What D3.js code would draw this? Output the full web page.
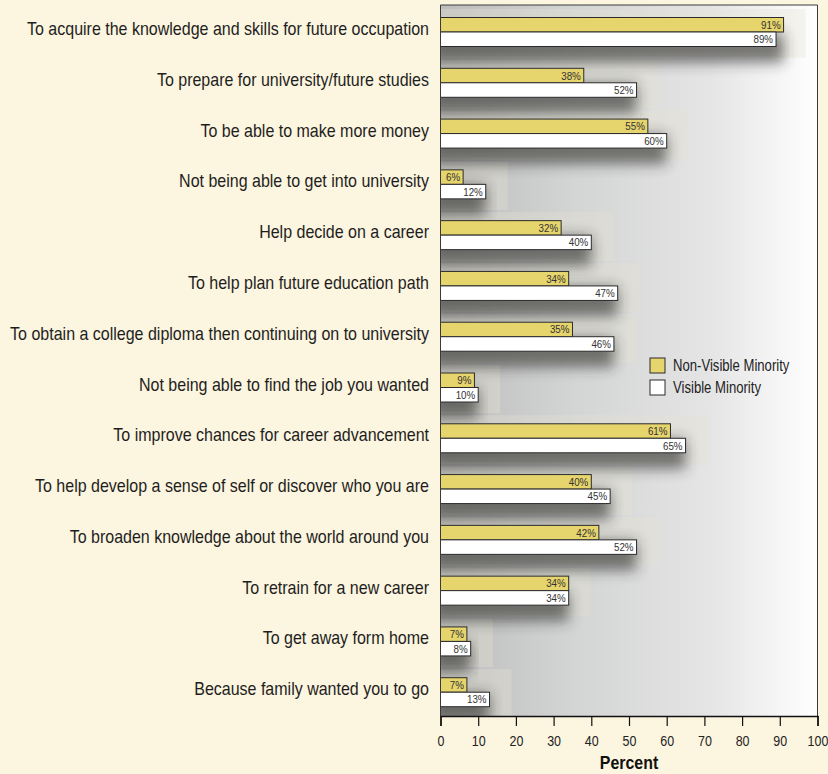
<!DOCTYPE html>
<html>
<head>
<meta charset="utf-8">
<script src="https://cdn.jsdelivr.net/npm/d3@7"></script>
<style>
  html, body { margin: 0; padding: 0; background: #fcf5df; }
  svg { display: block; }
  text { font-family: "Liberation Sans", Arial, sans-serif; }
</style>
</head>
<body>
<svg id="chart" width="828" height="774"></svg>
<script>
// Reasons for attending college, by minority status (percent)
const categories = [
  "To acquire the knowledge and skills for future occupation",
  "To prepare for university/future studies",
  "To be able to make more money",
  "Not being able to get into university",
  "Help decide on a career",
  "To help plan future education path",
  "To obtain a college diploma then continuing on to university",
  "Not being able to find the job you wanted",
  "To improve chances for career advancement",
  "To help develop a sense of self or discover who you are",
  "To broaden knowledge about the world around you",
  "To retrain for a new career",
  "To get away form home",
  "Because family wanted you to go"
];
const nonVisibleMinority = [91, 38, 55, 6, 32, 34, 35, 9, 61, 40, 42, 34, 7, 7];
const visibleMinority    = [89, 52, 60, 12, 40, 47, 46, 10, 65, 45, 52, 34, 8, 13];
const seriesNames = ["Non-Visible Minority", "Visible Minority"];
const seriesColors = ["#e6d46c", "#ffffff"];
const xTicks = [0, 10, 20, 30, 40, 50, 60, 70, 80, 90, 100];

const rows = categories.map((c, i) => ({
  category: c,
  values: [nonVisibleMinority[i], visibleMinority[i]]
}));

// condensed lettering: horizontal squeeze factors
const NARROW_LABEL = 0.89;
const NARROW_SMALL = 0.85;

const svg = d3.select("#chart");
const plot = { left: 440.5, right: 817.5, top: 5, bottom: 716 };

const x = d3.scaleLinear().domain([0, 100]).range([plot.left, plot.right]);
const y = d3.scaleBand().domain(categories).range([plot.top, plot.bottom]);
const inner = d3.scaleBand().domain(seriesNames).range([12.5, 41.5]);

const defs = svg.append("defs");
const grad = defs.append("linearGradient").attr("id", "bg").attr("x1", 0).attr("x2", 1).attr("y1", 0).attr("y2", 0);
grad.append("stop").attr("offset", "0%").attr("stop-color", "#bcbcbc");
grad.append("stop").attr("offset", "35%").attr("stop-color", "#d3d4d4");
grad.append("stop").attr("offset", "72%").attr("stop-color", "#e5e5e6");
grad.append("stop").attr("offset", "100%").attr("stop-color", "#ffffff");

const blur = defs.append("filter").attr("id", "shadow")
  .attr("x", "-20%").attr("y", "-150%").attr("width", "140%").attr("height", "400%");
blur.append("feGaussianBlur").attr("stdDeviation", 7);

defs.append("clipPath").attr("id", "plotClip").append("rect")
  .attr("x", plot.left).attr("y", plot.top)
  .attr("width", plot.right - plot.left).attr("height", plot.bottom - plot.top);

// plot background
svg.append("rect")
  .attr("x", plot.left).attr("y", plot.top)
  .attr("width", plot.right - plot.left).attr("height", plot.bottom - plot.top)
  .attr("fill", "url(#bg)");

const under = svg.append("g").attr("clip-path", "url(#plotClip)");

// faint warm glow behind each row
under.append("g").selectAll("rect").data(rows).join("rect")
  .attr("x", plot.left)
  .attr("y", d => y(d.category) + 4)
  .attr("width", d => Math.min(x(d3.max(d.values)) + 22, plot.right) - plot.left)
  .attr("height", y.bandwidth() - 2)
  .attr("fill", "#e6e1d2")
  .attr("opacity", 0.35);

// soft drop shadows under each pair of bars
under.append("g").selectAll("rect").data(rows).join("rect")
  .attr("x", plot.left - 10)
  .attr("y", d => y(d.category) + inner.range()[0] + 16)
  .attr("width", d => x(d3.max(d.values)) - plot.left + 10)
  .attr("height", inner.range()[1] - inner.range()[0])
  .attr("fill", "#262626")
  .attr("opacity", 0.6)
  .attr("filter", "url(#shadow)");

// bars
const groups = svg.append("g").selectAll("g").data(rows).join("g")
  .attr("transform", d => `translate(0,${y(d.category)})`);

groups.selectAll("rect").data(d => d.values.map((v, j) => ({ v, s: seriesNames[j], j })))
  .join("rect")
  .attr("x", x(0))
  .attr("y", d => inner(d.s))
  .attr("width", d => x(d.v) - x(0))
  .attr("height", inner.bandwidth())
  .attr("fill", d => seriesColors[d.j])
  .attr("stroke", "#2b2b2b")
  .attr("stroke-width", 1);

groups.selectAll("text.val").data(d => d.values.map((v, j) => ({ v, s: seriesNames[j] })))
  .join("text")
  .attr("class", "val")
  .attr("transform", d => `translate(${x(d.v) - 3},${inner(d.s) + inner.bandwidth() / 2 + 4}) scale(${NARROW_SMALL},1)`)
  .attr("text-anchor", "end")
  .attr("font-size", 11.5)
  .attr("fill", "#333")
  .text(d => d.v + "%");

// category labels
svg.append("g").selectAll("text").data(categories).join("text")
  .attr("transform", d => `translate(429,${y(d) + 30}) scale(${NARROW_LABEL},1)`)
  .attr("text-anchor", "end")
  .attr("font-size", 18)
  .attr("fill", "#1e1e1e")
  .text(d => d);

// frame
svg.append("path")
  .attr("d", `M${plot.left},${plot.bottom}V${plot.top}H${plot.right}V${plot.bottom}`)
  .attr("fill", "none").attr("stroke", "#3a3a3a").attr("stroke-width", 1);

// x axis
const xAxis = svg.append("g")
  .attr("transform", `translate(0,${plot.bottom})`)
  .call(d3.axisBottom(x).tickValues(xTicks).tickSize(10).tickPadding(10));
xAxis.select(".domain").attr("stroke", "#111").attr("stroke-width", 1.5);
xAxis.selectAll(".tick line").attr("stroke", "#111").attr("stroke-width", 1.2);
xAxis.selectAll(".tick text")
  .attr("font-family", '"Liberation Sans", Arial, sans-serif')
  .attr("font-size", 14).attr("fill", "#222")
  .attr("transform", `scale(${NARROW_LABEL},1)`);

svg.append("text")
  .attr("transform", `translate(${x(50)},769) scale(0.86,1)`)
  .attr("text-anchor", "middle")
  .attr("font-weight", "bold")
  .attr("font-size", 18.5)
  .attr("fill", "#111")
  .text("Percent");

// legend
const legend = svg.append("g").attr("transform", "translate(650,358)");
const li = legend.selectAll("g").data(seriesNames).join("g")
  .attr("transform", (d, i) => `translate(0,${i * 22})`);
li.append("rect")
  .attr("width", 15).attr("height", 15)
  .attr("fill", (d, i) => seriesColors[i])
  .attr("stroke", "#2b2b2b");
li.append("text")
  .attr("transform", `translate(23,12.5) scale(0.82,1)`)
  .attr("font-size", 16)
  .attr("fill", "#222")
  .text(d => d);
</script>
</body>
</html>
